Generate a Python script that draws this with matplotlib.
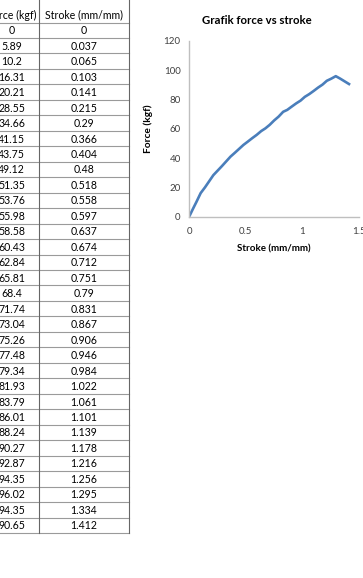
import matplotlib
matplotlib.use("Agg")
import matplotlib.pyplot as plt

force = [0, 5.89, 10.2, 16.31, 20.21, 28.55, 34.66, 41.15, 43.75, 49.12,
         51.35, 53.76, 55.98, 58.58, 60.43, 62.84, 65.81, 68.4, 71.74, 73.04,
         75.26, 77.48, 79.34, 81.93, 83.79, 86.01, 88.24, 90.27, 92.87, 94.35,
         96.02, 94.35, 90.65]
stroke = [0, 0.037, 0.065, 0.103, 0.141, 0.215, 0.29, 0.366, 0.404, 0.48,
          0.518, 0.558, 0.597, 0.637, 0.674, 0.712, 0.751, 0.79, 0.831, 0.867,
          0.906, 0.946, 0.984, 1.022, 1.061, 1.101, 1.139, 1.178, 1.216, 1.256,
          1.295, 1.334, 1.412]
headers = ["Force (kgf)", "Stroke (mm/mm)"]
yticks = [0, 20, 40, 60, 80, 100, 120]
xticks = [0, 0.5, 1, 1.5]

W, H = 363, 578
plt.rcParams["font.family"] = ["Lato", "DejaVu Sans"]
fig = plt.figure(figsize=(W / 100, H / 100), dpi=100)

# spreadsheet part, drawn in pixel coordinates
# (the left column is cut by the screenshot edge, as in the original)
tab = fig.add_axes([0, 0, 1, 1])
tab.set_xlim(0, W)
tab.set_ylim(H, 0)
tab.axis("off")

row_h = 15.47
top = 22.5 - row_h
x_left, x_mid, x_right = -18, 39.3, 128.5
n_rows = len(force) + 1
for i in range(1, n_rows + 1):
    y = top + i * row_h
    tab.plot([x_left, x_right], [y, y], color="#9a9a9a", lw=0.8)
y_end = top + n_rows * row_h
tab.plot([x_mid, x_mid], [0, y_end], color="#666666", lw=0.8)
tab.plot([x_right, x_right], [0, y_end], color="#666666", lw=0.8)

c1 = (x_left + x_mid) / 2 + 1
c2 = (x_mid + x_right) / 2
fs = 7.6
tab.text(c1, top + row_h / 2 + 0.5, headers[0], ha="center", va="center", fontsize=fs)
tab.text(c2, top + row_h / 2 + 0.5, headers[1], ha="center", va="center", fontsize=fs)
for i, (f, s) in enumerate(zip(force, stroke)):
    y = top + (i + 1.5) * row_h + 0.5
    tab.text(c1, y, f"{f:g}", ha="center", va="center", fontsize=fs)
    tab.text(c2, y, f"{s:g}", ha="center", va="center", fontsize=fs)

# chart
ax = fig.add_axes([189 / W, 1 - 217 / H, 170 / W, 176 / H])
ax.plot(stroke, force, color="#4a7ebb", lw=1.9, solid_joinstyle="round")
ax.set_xlim(0, 1.5)
ax.set_ylim(0, 120)
ax.set_xticks(xticks)
ax.set_xticklabels([f"{v:g}" for v in xticks])
ax.set_yticks(yticks)
for sp in ["top", "right"]:
    ax.spines[sp].set_visible(False)
for sp in ["left", "bottom"]:
    ax.spines[sp].set_color("#bfbfbf")
    ax.spines[sp].set_linewidth(1.0)
ax.tick_params(length=0, labelsize=7, colors="#404040", pad=6)
ax.tick_params(axis="x", pad=7)
ax.patch.set_alpha(0)
ax.set_xlabel("Stroke (mm/mm)", fontsize=7, fontweight="bold", labelpad=6)
ax.set_ylabel("Force (kgf)", fontsize=7.3, fontweight="bold", labelpad=8)
fig.text(257 / W, 1 - 21 / H, "Grafik force vs stroke", ha="center", va="center",
         fontsize=8.2, fontweight="bold")

fig.savefig("out.png", dpi=100)
